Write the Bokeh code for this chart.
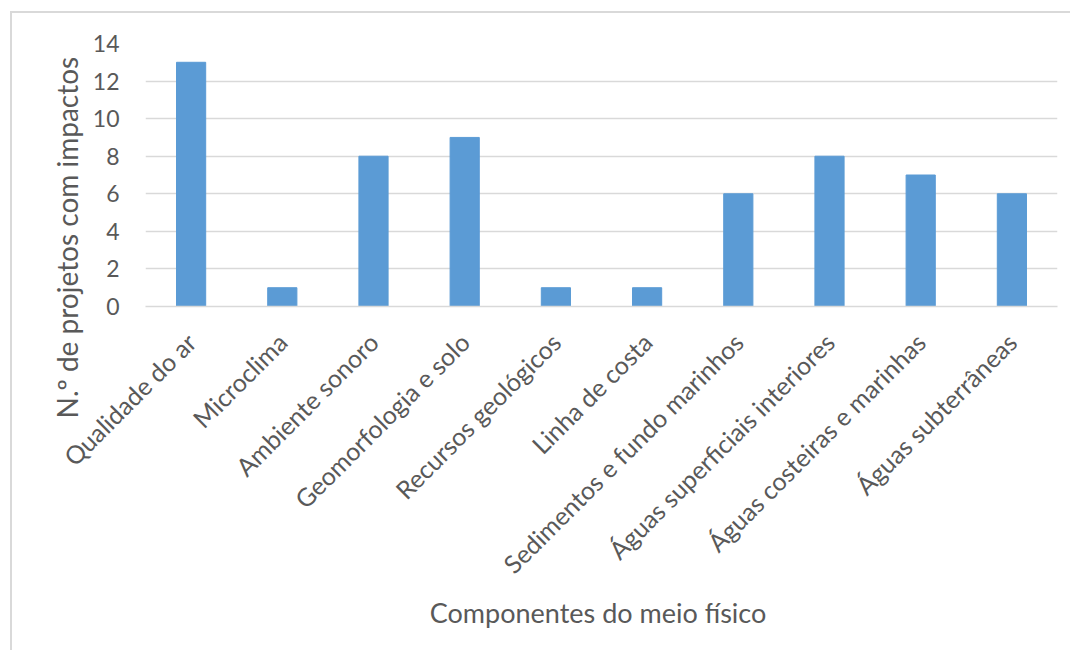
from bokeh.plotting import figure
from bokeh.models import FixedTicker, Title, FactorRange, CategoricalAxis
from bokeh.embed import file_html
from bokeh.resources import INLINE
import math

categories = ["Qualidade do ar", "Microclima", "Ambiente sonoro", "Geomorfologia e solo",
              "Recursos geológicos", "Linha de costa", "Sedimentos e fundo marinhos",
              "Águas superficiais interiores", "Águas costeiras e marinhas", "Águas subterrâneas"]
values = [13, 1, 8, 9, 1, 1, 6, 8, 7, 6]
y_ticks = [0, 2, 4, 6, 8, 10, 12, 14]

FONT = "Lato"
TXT = "#595959"
GRID = "#d9d9d9"

p = figure(x_range=categories, y_range=(0, 14), width=1070, height=650,
           output_backend="svg", toolbar_location=None, x_axis_location=None,
           min_border_left=145, min_border_right=13, min_border_top=43, min_border_bottom=344)
p.outline_line_color = None
p.background_fill_color = None
p.border_fill_color = None
p.styles = {
    "background-color": "white",
    "background-image": "linear-gradient(#d9d9d9, #d9d9d9), linear-gradient(#d9d9d9, #d9d9d9)",
    "background-position": "10px 11px, 10px 11px",
    "background-size": "2px 100%, 100% 2px",
    "background-repeat": "no-repeat",
}

p.vbar(x=categories, top=values, width=0.32, color="#5b9bd5")

p.x_range.range_padding = 0
p.xgrid.grid_line_color = None
p.ygrid.grid_line_color = GRID
p.ygrid.grid_line_width = 1.3

# label range slightly shifted so the rotated labels end just left of each bar centre
n = len(categories)
p.extra_x_ranges = {"labels": FactorRange(factors=categories, start=0.11, end=n + 0.11)}
xaxis = CategoricalAxis(x_range_name="labels")
p.add_layout(xaxis, "below")

p.yaxis.ticker = FixedTicker(ticks=y_ticks)
p.yaxis.axis_line_color = None
p.yaxis.major_tick_line_color = None
p.yaxis.minor_tick_line_color = None
p.yaxis.major_tick_out = 0
p.yaxis.major_label_standoff = 26
p.yaxis.major_label_text_font = FONT
p.yaxis.major_label_text_font_size = "23px"
p.yaxis.major_label_text_color = TXT

xaxis.axis_line_color = GRID
xaxis.axis_line_width = 1.3
xaxis.major_tick_line_color = None
xaxis.minor_tick_line_color = None
xaxis.major_tick_out = 0
xaxis.major_label_orientation = math.pi / 4
xaxis.major_label_standoff = 31
xaxis.major_label_text_font = FONT
xaxis.major_label_text_font_size = "25px"
xaxis.major_label_text_color = TXT
xaxis.axis_label = "Componentes  do meio físico"
xaxis.axis_label_text_font = FONT
xaxis.axis_label_text_font_size = "27px"
xaxis.axis_label_text_font_style = "normal"
xaxis.axis_label_text_color = TXT
xaxis.axis_label_standoff = 4

ytitle = Title(text="N.º de projetos com impactos", align="left", offset=-112,
               text_font=FONT, text_font_size="28px", text_font_style="normal",
               text_color=TXT, standoff=12)
p.add_layout(ytitle, "left")

open("out.html", "w").write(file_html(p, INLINE))
